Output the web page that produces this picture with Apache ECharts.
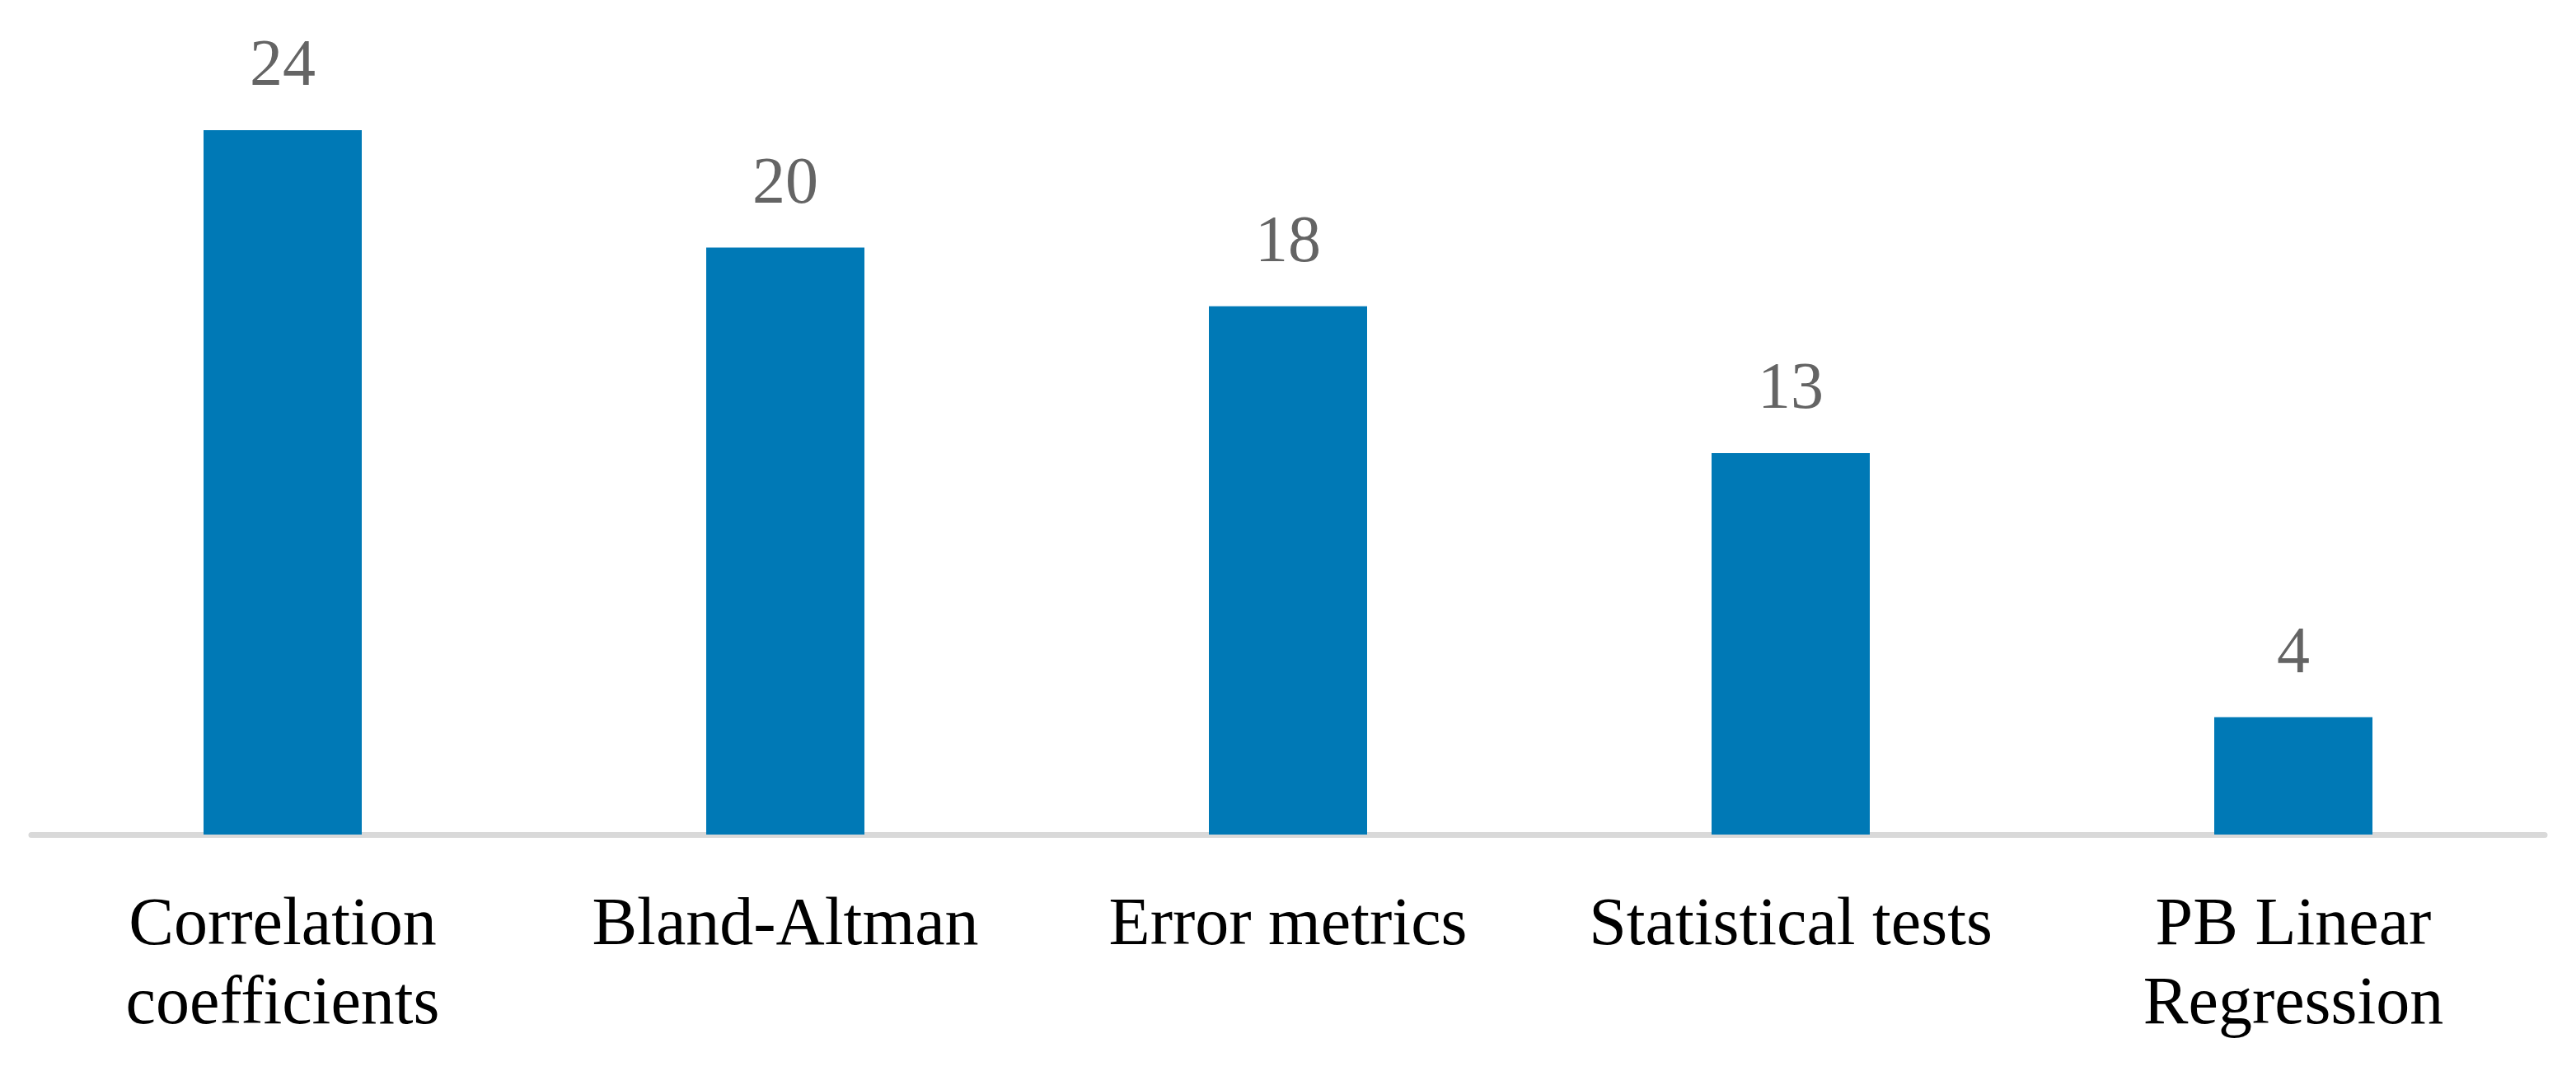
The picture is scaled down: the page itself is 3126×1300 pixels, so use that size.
<!DOCTYPE html>
<html>
<head>
<meta charset="utf-8">
<script src="https://cdn.jsdelivr.net/npm/echarts@6/dist/echarts.min.js"></script>
<style>
html,body{margin:0;padding:0;background:#fff;}
#chart{width:3126px;height:1300px;}
</style>
</head>
<body>
<div id="chart"></div>
<script>
const categories = ['Correlation\ncoefficients', 'Bland-Altman', 'Error metrics', 'Statistical tests', 'PB Linear\nRegression'];
const values = [24, 20, 18, 13, 4];

const chart = echarts.init(document.getElementById('chart'), null, {renderer: 'canvas'});
chart.setOption({
  animation: false,
  backgroundColor: '#ffffff',
  grid: {left: 38, right: 38, top: 158, bottom: 287, containLabel: false},
  xAxis: {
    type: 'category',
    data: categories,
    offset: 4,
    axisLine: {show: true, lineStyle: {color: '#D9D9D9', width: 7}},
    axisTick: {show: false},
    axisLabel: {
      interval: 0,
      margin: 59,
      color: '#000000',
      fontFamily: 'Liberation Serif',
      fontSize: 82,
      lineHeight: 96
    }
  },
  yAxis: {
    type: 'value',
    min: 0,
    max: 24,
    show: false,
    splitLine: {show: false}
  },
  series: [{
    type: 'bar',
    data: values,
    barWidth: 192,
    itemStyle: {color: '#0079B6'},
    label: {
      show: true,
      position: 'top',
      distance: 36,
      color: '#646464',
      fontFamily: 'Liberation Serif',
      fontSize: 80
    }
  }]
});
</script>
</body>
</html>
